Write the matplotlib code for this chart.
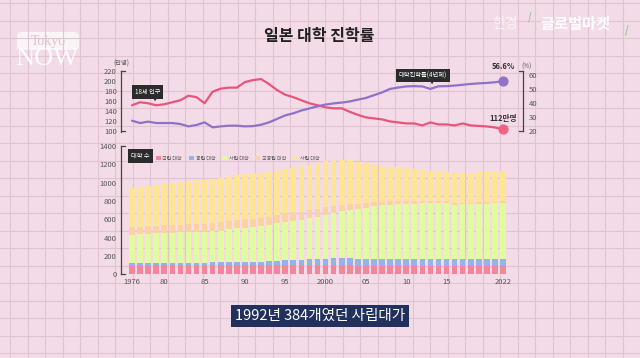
import matplotlib
matplotlib.use("Agg")
import matplotlib.pyplot as plt
from matplotlib.patches import FancyBboxPatch
import numpy as np

# ---- data ----
years = list(range(1976, 2023))

# 18세 인구 (만명)
pop_18 = [152, 158, 156, 152, 154, 158, 162, 171, 168, 156,
          179, 185, 187, 187, 198, 202, 204, 194, 182, 173,
          168, 162, 156, 152, 148, 146, 146, 139, 133, 128,
          126, 124, 120, 118, 116, 116, 112, 118, 114, 114,
          112, 116, 112, 111, 110, 108, 104]

# 대학진학률(4년제) (%)
uni_rate = [27.2, 25.5, 26.5, 25.5, 25.5, 25.5, 24.8, 23.1, 24.1, 26.0,
            22.4, 23.1, 23.6, 23.6, 23.1, 23.3, 24.3, 26.0, 28.5, 31.0,
            32.5, 34.5, 36.0, 37.5, 38.8, 39.6, 40.2, 41.0, 42.3, 43.5,
            45.5, 47.5, 50.0, 51.0, 51.8, 52.0, 51.8, 50.0, 51.9, 52.0,
            52.4, 53.0, 53.6, 54.0, 54.3, 54.8, 55.6]

# 대학 수
nat_univ = [93, 95, 96, 97, 98, 98, 98, 98, 98, 98,
            98, 98, 98, 99, 99, 99, 99, 99, 99, 99,
            99, 99, 99, 99, 99, 99, 99, 100, 88, 88,
            88, 88, 87, 87, 87, 87, 87, 87, 87, 87,
            87, 87, 87, 87, 87, 87, 87]
pub_univ = [28, 28, 28, 28, 29, 29, 29, 29, 30, 30,
            31, 32, 33, 34, 34, 35, 37, 42, 46, 52,
            56, 60, 64, 68, 72, 74, 75, 76, 78, 80,
            80, 80, 80, 80, 80, 78, 78, 82, 84, 82,
            78, 78, 80, 80, 80, 82, 84]
priv_univ = [311, 316, 317, 322, 324, 328, 330, 332, 335, 336,
             339, 347, 360, 368, 376, 382, 389, 395, 410, 420,
             430, 436, 449, 462, 480, 498, 514, 528, 544, 556,
             572, 584, 594, 600, 602, 604, 608, 610, 606, 608,
             596, 598, 598, 600, 604, 606, 608]
pub_jc = [80, 81, 82, 82, 83, 84, 85, 86, 88, 90,
          90, 90, 90, 91, 92, 92, 93, 93, 93, 93,
          92, 90, 86, 82, 78, 72, 66, 62, 58, 52,
          46, 40, 36, 32, 28, 26, 24, 22, 20, 18,
          18, 18, 17, 17, 17, 16, 16]
priv_jc = [425, 432, 438, 444, 450, 456, 462, 468, 474, 480,
           482, 484, 486, 488, 491, 490, 489, 486, 484, 481,
           488, 492, 496, 500, 502, 496, 490, 481, 460, 436,
           412, 394, 377, 368, 359, 350, 340, 329, 326, 325,
           326, 326, 327, 327, 328, 328, 328]

bar_series = [("국립 대학", nat_univ), ("공립 대학", pub_univ), ("사립 대학", priv_univ),
              ("국공립 대학", pub_jc), ("사립 대학", priv_jc)]
bar_colors = ["#f0879b", "#94b2ec", "#e3fb9f", "#fbd2a3", "#fde594"]

xtick_pos = [1976, 1980, 1985, 1990, 1995, 2000, 2005, 2010, 2015, 2022]
xtick_lab = ["1976", "80", "85", "90", "95", "2000", "05", "10", "15", "2022"]

# ---- style ----
W, H = 640, 358
BG = "#f3dce7"
GRID = "#e2c3d3"
RED = "#e9557a"
PURPLE = "#8e72c8"
AXC = "#444444"
TXT = "#555555"

plt.rcParams["font.family"] = ["Noto Sans CJK KR", "DejaVu Sans"]

fig = plt.figure(figsize=(6.4, 3.58), dpi=100)
fig.patch.set_facecolor(BG)


def px_axes(x0, y0, x1, y1, **kw):
    return fig.add_axes([x0 / W, 1 - y1 / H, (x1 - x0) / W, (y1 - y0) / H], **kw)


def ftext(x, y, s, **kw):
    return fig.text(x / W, 1 - y / H, s, **kw)


# background grid paper
bg = px_axes(0, 0, W, H, zorder=-10)
bg.set_xlim(0, W)
bg.set_ylim(H, 0)
bg.axis("off")
for gx in np.arange(10, W, 17.5):
    bg.axvline(gx, color=GRID, lw=0.8)
for gy in np.arange(3.3, H, 17.5):
    bg.axhline(gy, color=GRID, lw=0.8)

# logo
bg.add_patch(FancyBboxPatch((18, 33), 60, 16, boxstyle="round,pad=1,rounding_size=5",
                            fc="white", ec="none", alpha=0.7))
bg.text(48, 42, "Tokyo", family="Liberation Serif", fontsize=10, color="#dcc3cf",
        ha="center", va="center")
bg.text(47, 59, "NOW", family="Liberation Serif", fontsize=19, color="white",
        ha="center", va="center", alpha=0.9)
bg.text(505, 24, "한경", fontsize=10, color="white", alpha=0.7, ha="center", va="center")
bg.text(575, 24, "글로벌마켓", fontsize=11, color="white", fontweight="bold",
        ha="center", va="center", alpha=0.95)
bg.text(530, 17, "/", fontsize=7, color="#8fc79a", ha="center", va="center", fontweight="bold")
bg.text(627, 30, "/", fontsize=7, color="#8fc79a", ha="center", va="center", fontweight="bold")

# title
ftext(319, 36, "일본 대학 진학률", fontsize=11.5, fontweight="bold", color="#222222",
      ha="center", va="center")

XL = (1976 - 11 / 8.065, 2022 + 20 / 8.065)

# ---- upper line chart ----
ax1 = px_axes(121, 71, 523, 131.5)
ax1.patch.set_alpha(0)
ax1.set_xlim(*XL)
ax1.set_ylim(100, 220)
ax1.plot(years, pop_18, color=RED, lw=1.6, solid_capstyle="round")
ax1.scatter([years[-1]], [pop_18[-1]], s=40, color="#ee6384", zorder=5, clip_on=False)
ax1.set_yticks(range(100, 221, 20))
ax1.set_xticks([])
for s in ["top", "right", "bottom"]:
    ax1.spines[s].set_visible(False)
ax1.spines["left"].set_color(AXC)
ax1.spines["left"].set_linewidth(0.9)
ax1.tick_params(axis="y", length=0, pad=3, labelsize=5.5, labelcolor=TXT)
for yy in (0, 1):
    ax1.plot([0, 0.011], [yy, yy], transform=ax1.transAxes, color=AXC, lw=0.9, clip_on=False)

ax2 = ax1.twinx()
ax2.set_xlim(*XL)
ax2.set_ylim(20 - 0.8 / 1.39, 60 + 4 / 1.39)
ax2.plot(years, uni_rate, color=PURPLE, lw=1.6, solid_capstyle="round")
ax2.scatter([years[-1]], [uni_rate[-1]], s=40, color="#8f73c9", zorder=5, clip_on=False)
ax2.set_yticks(range(20, 61, 10))
for s in ["top", "left", "bottom"]:
    ax2.spines[s].set_visible(False)
ax2.spines["right"].set_color(AXC)
ax2.spines["right"].set_linewidth(0.9)
ax2.tick_params(axis="y", length=0, pad=4, labelsize=5.5, labelcolor=TXT)
for yy in (0, 1):
    ax2.plot([0.989, 1], [yy, yy], transform=ax2.transAxes, color=AXC, lw=0.9, clip_on=False)

ax2.annotate("56.6%", (years[-1], uni_rate[-1]), xytext=(0, 7), textcoords="offset points",
             ha="center", va="bottom", fontsize=5.5, fontweight="bold", color="#333333")
ax1.annotate("112만명", (years[-1], pop_18[-1]), xytext=(0, 5), textcoords="offset points",
             ha="center", va="bottom", fontsize=5.5, fontweight="bold", color="#333333")

ftext(121, 64, "(만명)", fontsize=4.5, color=TXT, ha="center", va="center")
ftext(527, 67, "(%)", fontsize=4.5, color=TXT, ha="center", va="center")

box = dict(boxstyle="square,pad=0.45", fc="#2b2b2b", ec="none")
ftext(147.5, 92, "18세 인구", fontsize=4.5, color="white", ha="center", va="center", bbox=box)
ftext(155, 99.5, "▼", fontsize=3, color="#2b2b2b", ha="center", va="center")
ftext(423, 75.5, "대학진학률(4년제)", fontsize=4.5, color="white", ha="center", va="center", bbox=box)
ftext(432, 83, "▼", fontsize=3, color="#2b2b2b", ha="center", va="center")

# ---- lower stacked bar chart ----
ax3 = px_axes(121, 146, 523, 274.3)
ax3.patch.set_alpha(0)
ax3.set_xlim(*XL)
ax3.set_ylim(0, 1400)
bottom = np.zeros(len(years))
for (name, vals), col in zip(bar_series, bar_colors):
    ax3.bar(years, vals, bottom=bottom, width=0.7, color=col, label=name, linewidth=0)
    bottom += np.array(vals)
ax3.set_yticks(range(0, 1401, 200))
ax3.set_xticks(xtick_pos)
ax3.set_xticklabels(xtick_lab)
for s in ["top", "right", "bottom"]:
    ax3.spines[s].set_visible(False)
ax3.spines["left"].set_color(AXC)
ax3.spines["left"].set_linewidth(0.9)
ax3.tick_params(axis="y", length=0, pad=3, labelsize=5.5, labelcolor=TXT)
ax3.tick_params(axis="x", length=0, pad=3, labelsize=5.5, labelcolor=TXT)
for yy in (0, 1):
    ax3.plot([0, 0.011], [yy, yy], transform=ax3.transAxes, color=AXC, lw=0.9, clip_on=False)

ftext(140.5, 156, "대학 수", fontsize=4.5, color="white", ha="center", va="center", bbox=box)
ax3.legend(loc="center left", bbox_to_anchor=((154 - 121) / 402, 1 - (158 - 146) / 128.3),
           ncol=5, fontsize=3.6, frameon=False, handlelength=0.9, handleheight=0.9,
           handletextpad=0.4, columnspacing=1.4, labelcolor=TXT, borderaxespad=0)

# ---- subtitle caption ----
ftext(320, 316, "1992년 384개였던 사립대가", fontsize=10.5, color="white", ha="center",
      va="center", bbox=dict(boxstyle="square,pad=0.3", fc="#22305e", ec="none"))

fig.savefig("out.png", dpi=100, facecolor=fig.get_facecolor())
